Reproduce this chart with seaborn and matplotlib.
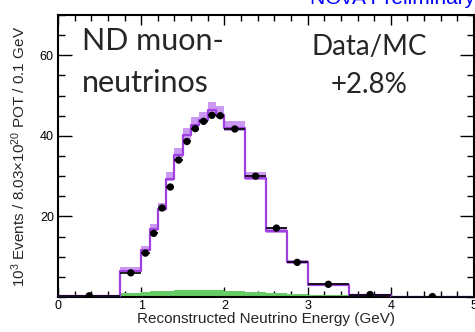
import numpy as np
import pandas as pd
import matplotlib
matplotlib.use("Agg")
import matplotlib.pyplot as plt
import seaborn as sns
from matplotlib.ticker import MultipleLocator, FixedLocator

# ---- data ----
bin_edges = [0.0, 0.75, 1.0, 1.1, 1.2, 1.3, 1.4, 1.5, 1.6, 1.7, 1.8, 1.9, 2.0,
             2.25, 2.5, 2.75, 3.0, 3.5, 4.0, 5.0]
mc_values = [0.3, 6.5, 11.7, 16.8, 21.9, 29.4, 35.3, 40.1, 42.6, 44.0, 46.3, 45.3,
             42.0, 29.6, 16.5, 8.6, 3.1, 0.5, 0.05]
band_up = [0.1, 0.9, 1.0, 1.2, 1.4, 1.6, 1.8, 1.9, 2.0, 2.0, 2.0, 2.0,
           1.8, 1.4, 1.0, 0.6, 0.3, 0.1, 0.03]
band_dn = [0.05, 0.3, 0.4, 0.5, 0.6, 0.7, 0.8, 0.8, 0.9, 0.9, 0.9, 0.9,
           0.8, 0.6, 0.5, 0.3, 0.15, 0.05, 0.02]
bkg_values = [0.1, 1.1, 1.3, 1.4, 1.5, 1.6, 1.7, 1.8, 1.8, 1.8, 1.8, 1.7,
              1.6, 1.3, 1.0, 0.8, 0.6, 0.2, 0.05]
data_values = [0.3, 6.0, 10.9, 15.8, 22.1, 27.3, 34.0, 38.6, 41.8, 43.6, 45.1, 45.0,
               41.7, 30.0, 17.1, 8.6, 3.15, 0.6, 0.1]
y_tick_labels = [20, 40, 60]

edges = np.array(bin_edges)
centers = 0.5 * (edges[:-1] + edges[1:])
halfw = 0.5 * (edges[1:] - edges[:-1])
mc = np.array(mc_values)

df = pd.DataFrame({"E": centers, "mc": mc_values, "bkg": bkg_values, "data": data_values})

sns.set_theme(style="ticks")
plt.rcParams['font.family'] = ['Liberation Sans', 'DejaVu Sans']
plt.rcParams['mathtext.fontset'] = 'custom'
plt.rcParams['mathtext.rm'] = 'Liberation Sans'
plt.rcParams['mathtext.it'] = 'Liberation Sans:italic'

fig = plt.figure(figsize=(4.75, 3.32), dpi=100)
ax = fig.add_axes([58/475, 1-297/332, 416/475, 282/332])

# background (green)
sns.histplot(data=df, x="E", weights="bkg", bins=list(bin_edges), element="step", fill=True,
             color="#66cc66", alpha=1.0, linewidth=0, ax=ax, zorder=1)

# MC error band
lo = mc - np.array(band_dn)
hi = mc + np.array(band_up)
ax.fill_between(edges, np.append(lo, lo[-1]), np.append(hi, hi[-1]), step="post",
                color="#cc99f2", linewidth=0, zorder=2)

# MC histogram line
sns.histplot(data=df, x="E", weights="mc", bins=list(bin_edges), element="step", fill=False,
             color="#a040e0", linewidth=1.6, ax=ax, zorder=3)

# data
ax.errorbar(centers, data_values, xerr=halfw, fmt="none", ecolor="black",
            elinewidth=1.2, zorder=4)
sns.scatterplot(data=df, x="E", y="data", color="black", s=28, edgecolor="none",
                ax=ax, zorder=5)

ax.set_xlim(0, 5)
ax.set_ylim(0, 70)
ax.xaxis.set_major_locator(MultipleLocator(1))
ax.xaxis.set_minor_locator(MultipleLocator(0.2))
ax.yaxis.set_major_locator(FixedLocator(y_tick_labels))
ax.yaxis.set_minor_locator(MultipleLocator(5))
ax.tick_params(axis="both", which="both", direction="in", top=True, right=True,
               colors="black", labelsize=9, width=1.0)
ax.tick_params(axis="y", which="major", length=10, pad=3)
ax.tick_params(axis="y", which="minor", length=5)
ax.tick_params(axis="x", which="major", length=7, pad=2)
ax.tick_params(axis="x", which="minor", length=4)
for s in ax.spines.values():
    s.set_linewidth(1.5)
    s.set_color("black")

ax.set_xlabel("Reconstructed Neutrino Energy (GeV)", fontsize=11, labelpad=0)
ax.set_ylabel(r"10$^{3}$ Events / 8.03×10$^{20}$ POT / 0.1 GeV", fontsize=11)
ax.yaxis.set_label_coords(-0.073, 0.5)

tfont = ['Lato', 'DejaVu Sans']
ax.text(0.058, 0.876, "ND muon-", transform=ax.transAxes, fontsize=22,
        family=tfont, va="baseline", ha="left")
ax.text(0.058, 0.727, "neutrinos", transform=ax.transAxes, fontsize=22,
        family=tfont, va="baseline", ha="left")
ax.text(0.748, 0.858, "Data/MC", transform=ax.transAxes, fontsize=20,
        family=tfont, va="baseline", ha="center")
ax.text(0.748, 0.723, "+2.8%", transform=ax.transAxes, fontsize=20,
        family=tfont, va="baseline", ha="center")

fig.text(1.0, 1 - 3.5/332, "NOvA Preliminary", color="#0000ff", fontsize=15,
         ha="right", va="baseline")

fig.savefig("out.png", dpi=100)
